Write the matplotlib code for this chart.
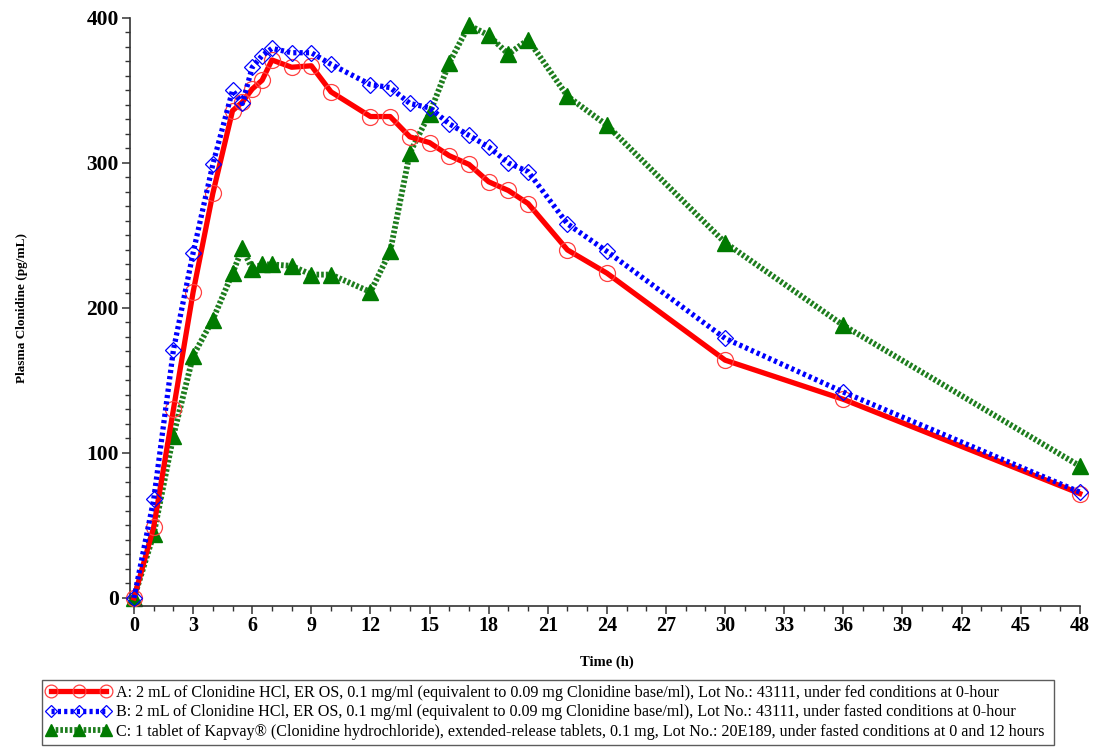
import matplotlib
matplotlib.use("Agg")
import matplotlib.pyplot as plt
from matplotlib.ticker import MultipleLocator

time_h = [0, 1, 2, 3, 4, 5, 5.5, 6, 6.5, 7, 8, 9, 10, 12, 13, 14, 15, 16, 17, 18, 19, 20, 22, 24, 30, 36, 48]

conc_a = [0, 49, 130, 211, 279, 336, 342, 351, 357, 371, 366, 367, 349, 332, 332, 318, 314, 305, 299, 287, 281, 272, 240, 224, 164, 137, 72]
conc_b = [0, 68, 171, 238, 299, 350, 341, 366, 374, 379, 376, 376, 368, 354, 352, 341, 338, 327, 319, 311, 300, 294, 258, 239, 179, 142, 73]
conc_c = [0, 44, 112, 167, 192, 224, 241, 227, 230, 230, 229, 223, 223, 211, 239, 307, 334, 369, 395, 388, 375, 385, 346, 326, 245, 188, 91]

label_a = "A: 2 mL of Clonidine HCl, ER OS, 0.1 mg/ml (equivalent to 0.09 mg Clonidine base/ml), Lot No.: 43111, under fed conditions at 0-hour"
label_b = "B: 2 mL of Clonidine HCl, ER OS, 0.1 mg/ml (equivalent to 0.09 mg Clonidine base/ml), Lot No.: 43111, under fasted conditions at 0-hour"
label_c = "C: 1 tablet of Kapvay\u00ae (Clonidine hydrochloride), extended-release tablets, 0.1 mg, Lot No.: 20E189, under fasted conditions at 0 and 12 hours"

x_ticks = list(range(0, 49, 3))
y_ticks = [0, 100, 200, 300, 400]

plt.rcParams['font.family'] = ['Liberation Serif', 'DejaVu Serif']

fig = plt.figure(figsize=(10.94, 7.47), dpi=100)
ax = fig.add_axes([0.1225, 0.1995, 0.8645, 0.7765])

ax.plot(time_h, conc_a, color='#FF0000', lw=3.8, ls='-', marker='o', ms=11.5,
        mfc='none', mec='#FF4040', mew=0.9, clip_on=False, zorder=3, label=label_a)
ax.plot(time_h, conc_b, color='#0000FF', lw=3.8, ls=(0, (0.6, 0.6)), marker='D', ms=8,
        mfc='none', mec='#0000FF', mew=0.9, clip_on=False, zorder=4, label=label_b)
ax.plot(time_h, conc_c, color='#1E7D1E', lw=4.2, ls=(0, (0.45, 0.35)), marker='^', ms=11,
        mfc='#007A00', mec='#007A00', clip_on=False, zorder=2, label=label_c)

ax.set_xlim(0, 48)
ax.set_ylim(0, 400)
ax.set_xticks(x_ticks)
ax.set_yticks(y_ticks)
ax.xaxis.set_minor_locator(MultipleLocator(1))
ax.yaxis.set_minor_locator(MultipleLocator(10))

for s in ['top', 'right']:
    ax.spines[s].set_visible(False)
ax.spines['left'].set_position(('outward', 3))
ax.spines['bottom'].set_position(('outward', 6))
for s in ['left', 'bottom']:
    ax.spines[s].set_color('#333333')
    ax.spines[s].set_linewidth(1.2)

ax.tick_params(axis='both', which='major', direction='out', length=6, width=1.1,
               labelsize=14.5, color='#333333')
ax.tick_params(axis='y', which='major', labelsize=15.5, pad=2)
ax.tick_params(axis='x', which='major', pad=1)
ax.tick_params(axis='both', which='minor', direction='out', length=3.5, width=1.0, color='#333333')
for lab in ax.get_xticklabels() + ax.get_yticklabels():
    lab.set_fontweight('bold')

ax.set_xlabel('Time (h)', fontsize=10.5, fontweight='bold', labelpad=14)
ax.set_ylabel('Plasma Clonidine (pg/mL)', fontsize=9.5, fontweight='bold', labelpad=42)

leg = fig.legend(loc='lower left', bbox_to_anchor=(0.038, 0.003, 0.925, 0.087),
                 mode='expand', fontsize=11.6, frameon=True, fancybox=False,
                 numpoints=3, handlelength=4.0, handletextpad=0.35, labelspacing=0.22,
                 borderpad=0.3, borderaxespad=0.0, markerscale=0.8)
leg.get_frame().set_edgecolor('#333333')
leg.get_frame().set_linewidth(1.0)

fig.savefig('out.png', dpi=100)
